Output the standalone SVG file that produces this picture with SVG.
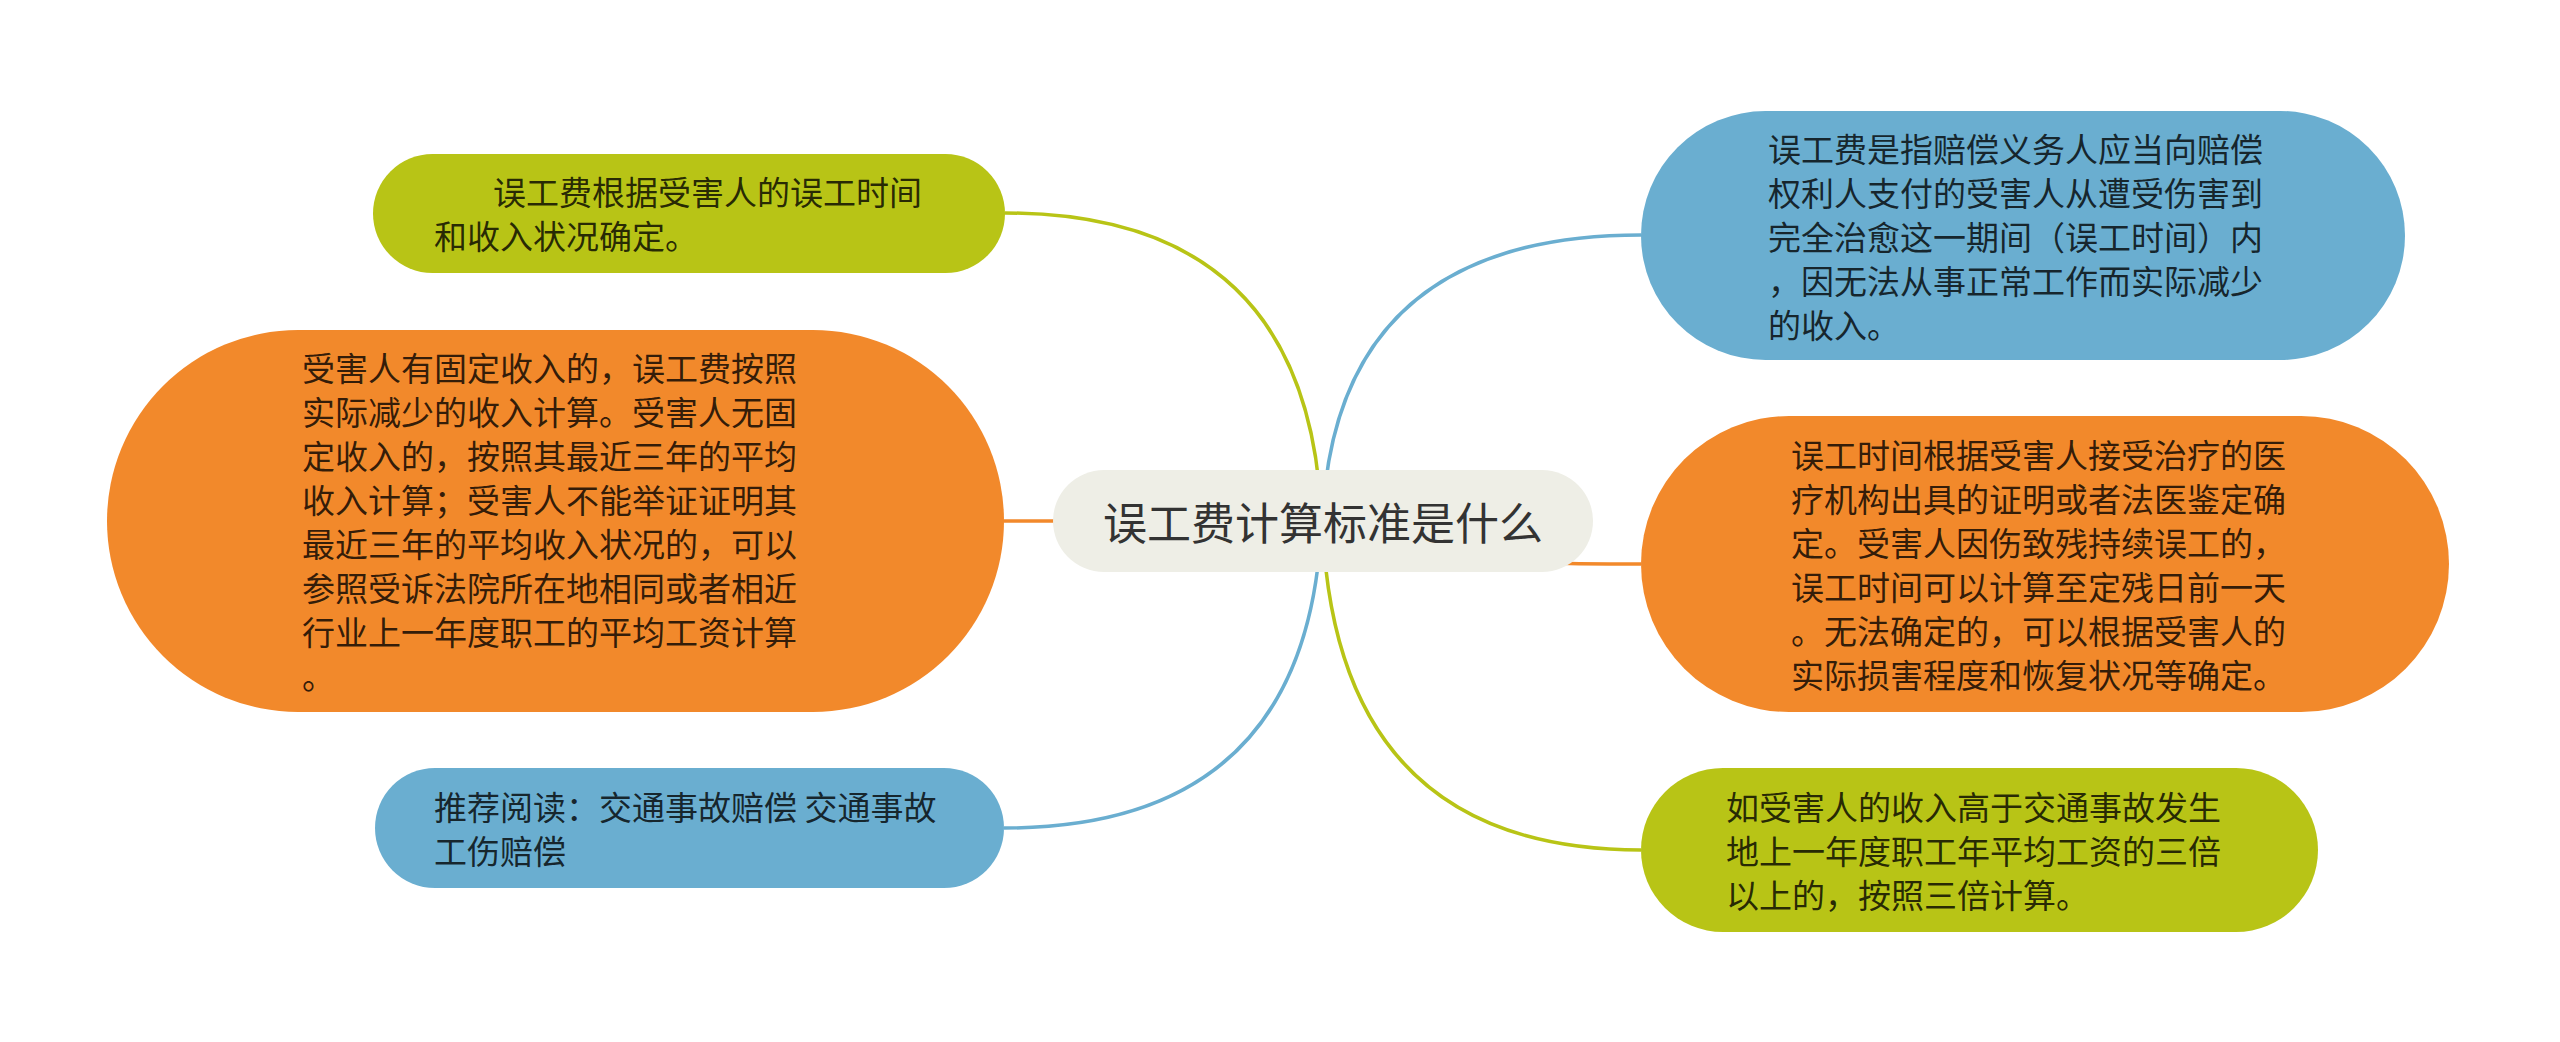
<svg xmlns="http://www.w3.org/2000/svg" width="2560" height="1042" viewBox="0 0 2560 1042">
<style>
.t{font-family:"Noto Sans CJK SC","Noto Sans",sans-serif;font-size:33px;fill:#000;fill-opacity:0.8;dominant-baseline:central}
.c{font-family:"Noto Sans CJK SC","Noto Sans",sans-serif;font-size:44px;fill:#333;dominant-baseline:central;text-anchor:middle}
.g{fill:#B8C416}.o{fill:#F2892B}.b{fill:#6AAED0}
.lg{stroke:#B8C416}.lo{stroke:#F2892B}.lb{stroke:#6AAED0}
#connectors path{fill:none;stroke-width:3.5}
</style>
<rect width="2560" height="1042" fill="#fff"/>
<g id="connectors">
<path class="lg" d="M1322 545 Q1322 213 1005 213"/>
<path class="lb" d="M1322 545 Q1322 235 1641 235"/>
<path class="lo" d="M1322 521 L1004 521"/>
<path class="lo" d="M1322 520 Q1322 564 1641 564"/>
<path class="lb" d="M1322 495 Q1322 828 1004 828"/>
<path class="lg" d="M1322 495 Q1322 850 1641 850"/>
</g>
<g id="center">
<rect x="1053" y="470" width="540" height="102" rx="51" fill="#EEEEE6"/>
<text class="c" x="1323" y="521">误工费计算标准是什么</text>
</g>
<g id="nodeA">
<rect class="g" x="373" y="154" width="632" height="119" rx="59.5"/>
<text class="t"><tspan x="493" y="191">误工费根据受害人的误工时间</tspan><tspan x="434" y="235">和收入状况确定。</tspan></text>
</g>
<g id="nodeB">
<rect class="o" x="107" y="330" width="897" height="382" rx="191"/>
<text class="t"><tspan x="302" y="367">受害人有固定收入的，误工费按照</tspan><tspan x="302" y="411">实际减少的收入计算。受害人无固</tspan><tspan x="302" y="455">定收入的，按照其最近三年的平均</tspan><tspan x="302" y="499">收入计算；受害人不能举证证明其</tspan><tspan x="302" y="543">最近三年的平均收入状况的，可以</tspan><tspan x="302" y="587">参照受诉法院所在地相同或者相近</tspan><tspan x="302" y="631">行业上一年度职工的平均工资计算</tspan><tspan x="302" y="675">。</tspan></text>
</g>
<g id="nodeC">
<rect class="b" x="375" y="768" width="629" height="120" rx="60"/>
<text class="t"><tspan x="434" y="806">推荐阅读：交通事故赔偿 交通事故</tspan><tspan x="434" y="850">工伤赔偿</tspan></text>
</g>
<g id="nodeD">
<rect class="b" x="1641" y="111" width="764" height="249" rx="124.5"/>
<text class="t"><tspan x="1768" y="148">误工费是指赔偿义务人应当向赔偿</tspan><tspan x="1768" y="192">权利人支付的受害人从遭受伤害到</tspan><tspan x="1768" y="236">完全治愈这一期间（误工时间）内</tspan><tspan x="1768" y="280">，因无法从事正常工作而实际减少</tspan><tspan x="1768" y="324">的收入。</tspan></text>
</g>
<g id="nodeE">
<rect class="o" x="1641" y="416" width="808" height="296" rx="148"/>
<text class="t"><tspan x="1791" y="454">误工时间根据受害人接受治疗的医</tspan><tspan x="1791" y="498">疗机构出具的证明或者法医鉴定确</tspan><tspan x="1791" y="542">定。受害人因伤致残持续误工的，</tspan><tspan x="1791" y="586">误工时间可以计算至定残日前一天</tspan><tspan x="1791" y="630">。无法确定的，可以根据受害人的</tspan><tspan x="1791" y="674">实际损害程度和恢复状况等确定。</tspan></text>
</g>
<g id="nodeF">
<rect class="g" x="1641" y="768" width="677" height="164" rx="82"/>
<text class="t"><tspan x="1726" y="806">如受害人的收入高于交通事故发生</tspan><tspan x="1726" y="850">地上一年度职工年平均工资的三倍</tspan><tspan x="1726" y="894">以上的，按照三倍计算。</tspan></text>
</g>
</svg>
